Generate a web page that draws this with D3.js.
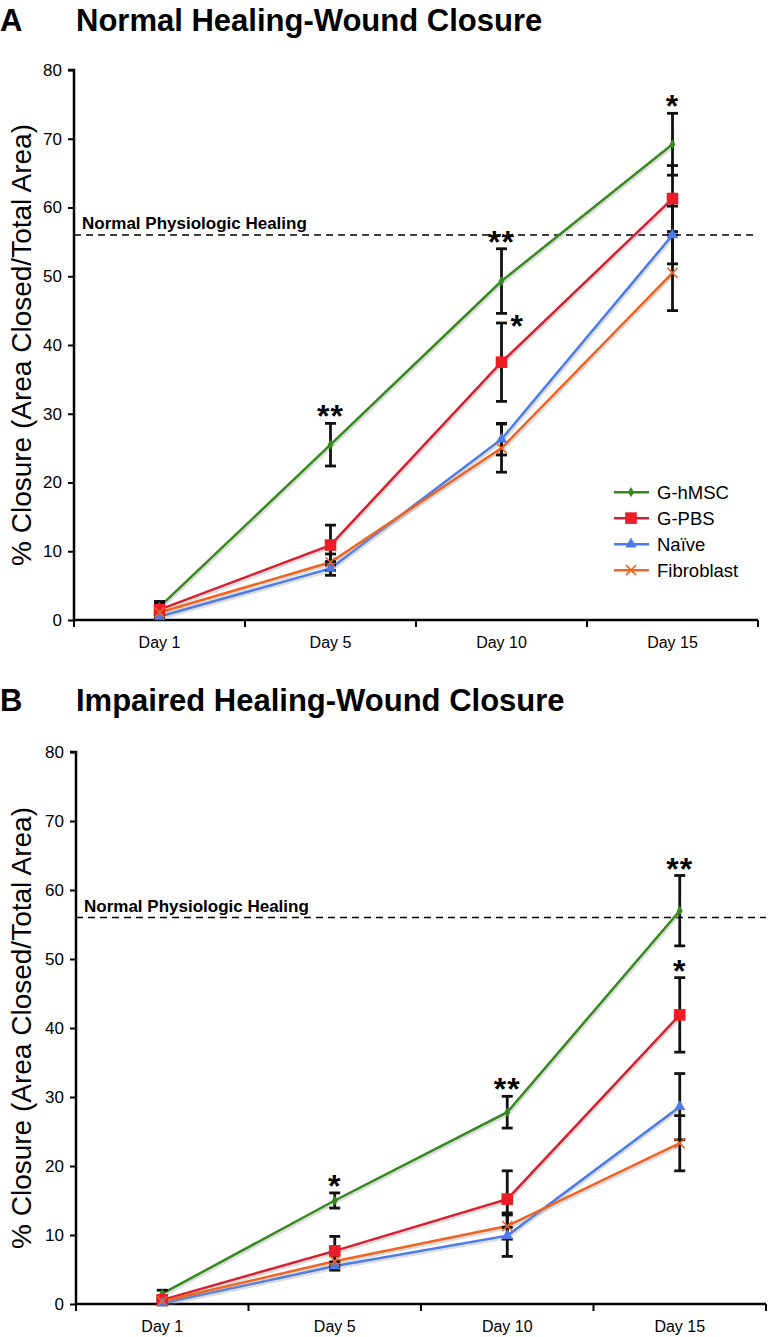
<!DOCTYPE html>
<html lang="en">
<head>
<meta charset="UTF-8" />
<script src="https://cdn.jsdelivr.net/npm/d3@7"></script>
<style>
  body { margin: 0; background: #fff; }
  svg text { font-family: 'Liberation Sans', Arial, sans-serif; fill: #000; }
</style>
</head>
<body>
<script>
// categories, ticks, series
const days = ['Day 1', 'Day 5', 'Day 10', 'Day 15']
const yTicks = [0, 10, 20, 30, 40, 50, 60, 70, 80]
const seriesNames = ['G-hMSC', 'G-PBS', 'Naïve', 'Fibroblast']

// A: normal healing (% closure)
const normalHmsc = [1.9, 25.5, 49.3, 69.2]
const normalPbs = [1.5, 10.9, 37.5, 61.3]
const normalNaive = [0.5, 7.5, 26.3, 56.0]
const normalFibro = [1.1, 8.4, 25.0, 50.5]
const normalHmscErr = [0.8, 3.1, 4.7, 4.5]
const normalPbsErr = [1.0, 2.9, 5.7, 4.8]
const normalNaiveErr = [0.4, 1.0, 2.3, 4.2]
const normalFibroErr = [0.6, 1.2, 3.5, 5.5]
const normalStars = [['', '**', '**', '*'], ['', '', '*', ''], ['', '', '', ''], ['', '', '', '']]
const normalReference = 56

// B: impaired healing (% closure)
const impairedHmsc = [1.5, 15.0, 27.8, 57.0]
const impairedPbs = [0.6, 7.7, 15.2, 41.9]
const impairedNaive = [0.1, 5.5, 9.9, 28.6]
const impairedFibro = [0.4, 6.2, 11.3, 23.3]
const impairedHmscErr = [0.5, 1.1, 2.3, 5.1]
const impairedPbsErr = [0.5, 2.1, 4.1, 5.4]
const impairedNaiveErr = [0.2, 0.6, 3.0, 4.8]
const impairedFibroErr = [0.3, 0.8, 1.9, 4.0]
const impairedStars = [['', '*', '**', '**'], ['', '', '', '*'], ['', '', '', ''], ['', '', '', '']]
const impairedReference = 56

const colors = ['#37891f', '#d42030', '#4b7be6', '#f06423']
const markerFill = ['#37891f', '#ee1c25', '#4b7be6', '#f06423']

const W = 768, H = 1337
const svg = d3.select('body').append('svg')
  .attr('width', W)
  .attr('height', H)

function drawPanel(p) {
  const g = svg.append('g')
  const x = d3.scaleBand().domain(days).range([p.left, p.right])
  const y = d3.scaleLinear().domain([0, 80]).range([p.bottom, p.top])

  // titles
  g.append('text').attr('x', 0).attr('y', p.titleY)
    .style('font-size', '31px').style('font-weight', 'bold').text(p.letter)
  g.append('text').attr('x', 76).attr('y', p.titleY)
    .style('font-size', '31px').style('font-weight', 'bold').text(p.title)

  // y axis
  const yAxis = g.append('g')
    .attr('transform', `translate(${p.left},0)`)
    .call(d3.axisLeft(y).tickValues(yTicks).tickSize(6).tickPadding(6))
  yAxis.select('.domain').attr('stroke-width', 2.5).attr('d', `M-6,${p.top}H0V${p.bottom}`)
  yAxis.selectAll('.tick line').attr('stroke-width', 2)
  yAxis.selectAll('.tick text').style('font-size', '17px').style('font-family', "'Liberation Sans', Arial, sans-serif")

  // x axis: ticks at category boundaries
  g.append('line').attr('x1', p.left - 1).attr('x2', p.right)
    .attr('y1', p.bottom).attr('y2', p.bottom)
    .attr('stroke', '#000').attr('stroke-width', 2.5)
  const bounds = days.map(d => x(d)).concat([p.right])
  g.selectAll('.xtick').data(bounds).join('line')
    .attr('x1', d => d).attr('x2', d => d)
    .attr('y1', p.bottom).attr('y2', p.bottom + 7)
    .attr('stroke', '#000').attr('stroke-width', 2)
  g.selectAll('.xlab').data(days).join('text')
    .attr('x', d => x(d) + x.bandwidth() / 2)
    .attr('y', p.bottom + 28)
    .attr('text-anchor', 'middle')
    .style('font-size', '16px')
    .text(d => d)

  // y title
  g.append('text')
    .attr('transform', `translate(31,${(p.top + p.bottom) / 2}) rotate(-90)`)
    .attr('text-anchor', 'middle')
    .style('font-size', '28px')
    .text('% Closure (Area Closed/Total Area)')

  // reference line
  g.append('line')
    .attr('x1', p.left).attr('x2', p.right)
    .attr('y1', y(p.reference)).attr('y2', y(p.reference))
    .attr('stroke', '#000').attr('stroke-width', 1.5)
    .attr('stroke-dasharray', '7,5')
  g.append('text')
    .attr('x', p.left + 8).attr('y', y(p.reference) - 6)
    .style('font-size', '17px').style('font-weight', 'bold')
    .text('Normal Physiologic Healing')

  const cx = d => x(d) + x.bandwidth() / 2
  const line = d3.line().x(d => cx(d.day)).y(d => y(d.v))
  const series = p.values.map((vals, i) => vals.map((v, j) => ({ day: days[j], v, e: p.errors[i][j], s: p.stars[i][j] })))

  // shadows then lines
  series.forEach((s, i) => {
    g.append('path').datum(s).attr('d', line)
      .attr('transform', 'translate(1,2)')
      .attr('fill', 'none').attr('stroke', '#9a9a9a').attr('stroke-opacity', 0.35).attr('stroke-width', 3)
    g.append('path').datum(s).attr('d', line)
      .attr('fill', 'none').attr('stroke', colors[i]).attr('stroke-width', 2.5)
  })

  // error bars
  series.forEach((s, i) => {
    const eb = g.append('g')
    eb.selectAll('.stem').data(s).join('line')
      .attr('x1', d => cx(d.day)).attr('x2', d => cx(d.day))
      .attr('y1', d => y(d.v - d.e)).attr('y2', d => y(d.v + d.e))
      .attr('stroke', '#111').attr('stroke-width', 2.8)
    eb.selectAll('.capT').data(s).join('line')
      .attr('x1', d => cx(d.day) - 5.5).attr('x2', d => cx(d.day) + 5.5)
      .attr('y1', d => y(d.v + d.e)).attr('y2', d => y(d.v + d.e))
      .attr('stroke', '#111').attr('stroke-width', 2.8)
    eb.selectAll('.capB').data(s).join('line')
      .attr('x1', d => cx(d.day) - 5.5).attr('x2', d => cx(d.day) + 5.5)
      .attr('y1', d => y(d.v - d.e)).attr('y2', d => y(d.v - d.e))
      .attr('stroke', '#111').attr('stroke-width', 2.8)
  })

  // markers
  series.forEach((s, i) => {
    drawMarkers(g, s.map(d => [cx(d.day), y(d.v)]), i)
  })

  // significance stars
  series.forEach((s, i) => {
    const side = p.sideStar === i
    g.selectAll(null).data(s.filter(d => d.s)).join('text')
      .attr('x', d => (side ? cx(d.day) + 9 : cx(d.day)))
      .attr('y', d => y(d.v + d.e) + (side ? 14 : 4))
      .attr('text-anchor', side ? 'start' : 'middle')
      .attr('letter-spacing', 1)
      .style('font-size', '32px').style('font-weight', 'bold')
      .text(d => d.s)
  })

  if (p.legend) {
    const lg = g.append('g')
    seriesNames.forEach((name, i) => {
      const ly = y(p.legendAt) + i * 26
      lg.append('line').attr('x1', 614).attr('x2', 649).attr('y1', ly).attr('y2', ly)
        .attr('stroke', colors[i]).attr('stroke-width', 2.5)
      drawMarkers(lg, [[631, ly]], i)
      lg.append('text').attr('x', 657).attr('y', ly + 6.5)
        .style('font-size', '18.5px').text(name)
    })
  }
}

function drawMarkers(g, pts, i) {
  if (i === 3) {
    pts.forEach(([px, py]) => {
      g.append('path').attr('d', `M${px - 5},${py - 5}L${px + 5},${py + 5}M${px - 5},${py + 5}L${px + 5},${py - 5}`)
        .attr('stroke', markerFill[i]).attr('stroke-width', 1.6).attr('fill', 'none')
    })
    return
  }
  const sym = [d3.symbolDiamond, d3.symbolSquare, d3.symbolTriangle][i]
  const size = [30, 135, 55][i]
  g.selectAll(null).data(pts).join('path')
    .attr('transform', d => `translate(${d[0]},${d[1]})`)
    .attr('d', d3.symbol().type(sym).size(size))
    .attr('fill', markerFill[i])
}

drawPanel({
  letter: 'A', title: 'Normal Healing-Wound Closure', titleY: 31,
  left: 74, right: 758, top: 70, bottom: 620,
  values: [normalHmsc, normalPbs, normalNaive, normalFibro],
  errors: [normalHmscErr, normalPbsErr, normalNaiveErr, normalFibroErr],
  stars: normalStars, sideStar: 1,
  reference: normalReference, legend: true, legendAt: 18.6
})

drawPanel({
  letter: 'B', title: 'Impaired Healing-Wound Closure', titleY: 711,
  left: 76, right: 766, top: 752, bottom: 1304,
  values: [impairedHmsc, impairedPbs, impairedNaive, impairedFibro],
  errors: [impairedHmscErr, impairedPbsErr, impairedNaiveErr, impairedFibroErr],
  stars: impairedStars, sideStar: -1,
  reference: impairedReference, legend: false
})
</script>
</body>
</html>
